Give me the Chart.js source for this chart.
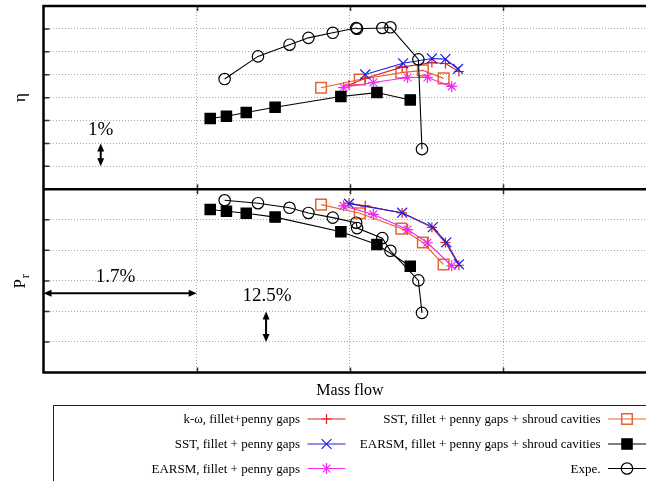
<!DOCTYPE html>
<html>
<head>
<meta charset="utf-8">
<script src="https://cdn.jsdelivr.net/npm/chart.js@4.4.1/dist/chart.umd.min.js"></script>
<style>
  body { margin: 0; background: #fff; }
  #wrap { width: 646px; height: 481px; }
</style>
</head>
<body>
<div id="wrap"><canvas id="perfChart" width="646" height="481"></canvas></div>
<script>
// axis ticks (mass flow step 1.7 %, eta step 1 %, pressure ratio step 12.5 %)
const massTicks = [0, 1.7, 3.4, 5.1];
const etaTicks = [84, 85, 86, 87, 88, 89, 90, 91, 92];
const prTicks = [0, 12.5, 25, 37.5, 50, 62.5, 75];

// k-omega, fillet + penny gaps
const kwMass = [3.39, 3.57, 3.98, 4.31, 4.46, 4.61];
const kwEta = [88.55, 88.85, 89.33, 89.53, 89.49, 89.14];
const kwPr = [69.3, 68.2, 65.3, 59.4, 53.2, 43.9];

// SST, fillet + penny gaps
const sstMassEta = [3.57, 3.99, 4.31, 4.46, 4.60];
const sstEta = [89.01, 89.50, 89.71, 89.68, 89.25];
const sstMassPr = [3.39, 3.98, 4.32, 4.47, 4.61];
const sstPr = [69.1, 65.4, 59.5, 53.3, 44.3];

// EARSM, fillet + penny gaps
const earsmMass = [3.33, 3.66, 4.04, 4.26, 4.53];
const earsmEta = [88.44, 88.66, 88.88, 88.88, 88.49];
const earsmPr = [68.2, 64.7, 58.5, 53.1, 43.7];

// SST with shroud cavities
const sstCavMass = [3.08, 3.51, 3.97, 4.21, 4.44];
const sstCavEta = [88.43, 88.79, 89.09, 89.19, 88.84];
const sstCavPr = [68.7, 65.2, 58.9, 53.2, 44.2];

// EARSM with shroud cavities
const earsmCavMass = [1.85, 2.03, 2.25, 2.57, 3.30, 3.70, 4.07];
const earsmCavEta = [87.09, 87.19, 87.35, 87.58, 88.05, 88.22, 87.90];
const earsmCavPr = [66.7, 66.0, 65.2, 63.6, 57.6, 52.4, 43.5];

// measurements
const expeMass = [2.01, 2.38, 2.73, 2.94, 3.21, 3.47, 3.48, 3.76, 3.85, 4.16, 4.20];
const expeEta = [88.81, 89.80, 90.31, 90.61, 90.83, 91.04, 91.01, 91.04, 91.07, 89.67, 85.75];
const expePr = [70.5, 69.3, 67.4, 65.3, 63.4, 61.3, 59.1, 55.0, 49.8, 37.7, 24.4];

const serif = '"Liberation Serif", "Times New Roman", serif';

const styles = {
  kw:       { label: 'k-\u03c9, fillet+penny gaps', color: '#e41e1e', pointStyle: 'cross', radius: 5, bw: 1.2, fill: 'transparent', order: 4 },
  sst:      { label: 'SST, fillet + penny gaps', color: '#1c1ce6', pointStyle: 'crossRot', radius: 7, bw: 1.2, fill: 'transparent', order: 3 },
  earsm:    { label: 'EARSM, fillet + penny gaps', color: '#ee2cee', pointStyle: 'star', radius: 5.5, bw: 1.2, fill: 'transparent', order: 2 },
  sstCav:   { label: 'SST, fillet + penny gaps + shroud cavities', color: '#e8642e', pointStyle: 'rect', radius: 7.5, bw: 1.5, fill: 'transparent', order: 5 },
  earsmCav: { label: 'EARSM, fillet + penny gaps + shroud cavities', color: '#000', pointStyle: 'rect', radius: 7.3, bw: 1.2, fill: '#000', order: 1 },
  expe:     { label: 'Expe.', color: '#000', pointStyle: 'circle', radius: 5.7, bw: 1.2, fill: 'transparent', order: 0 }
};

function series(key, xs, ys, axis) {
  const s = styles[key];
  return {
    label: s.label,
    key: key,
    data: xs.map((x, i) => ({ x: x, y: ys[i] })),
    yAxisID: axis,
    borderColor: s.color,
    borderWidth: 1.1,
    pointStyle: s.pointStyle,
    pointRadius: s.radius,
    pointBorderWidth: s.bw,
    pointBorderColor: s.color,
    pointBackgroundColor: s.fill,
    backgroundColor: s.fill,
    tension: 0,
    order: s.order
  };
}

const datasets = [
  series('kw', kwMass, kwEta, 'yEta'),
  series('sst', sstMassEta, sstEta, 'yEta'),
  series('earsm', earsmMass, earsmEta, 'yEta'),
  series('sstCav', sstCavMass, sstCavEta, 'yEta'),
  series('earsmCav', earsmCavMass, earsmCavEta, 'yEta'),
  series('expe', expeMass, expeEta, 'yEta'),
  series('kw', kwMass, kwPr, 'yPr'),
  series('sst', sstMassPr, sstPr, 'yPr'),
  series('earsm', earsmMass, earsmPr, 'yPr'),
  series('sstCav', sstCavMass, sstCavPr, 'yPr'),
  series('earsmCav', earsmCavMass, earsmCavPr, 'yPr'),
  series('expe', expeMass, expePr, 'yPr')
];

// legend layout: two columns, three rows
const legendItems = [
  { key: 'kw', col: 0, row: 0 },
  { key: 'sst', col: 0, row: 1 },
  { key: 'earsm', col: 0, row: 2 },
  { key: 'sstCav', col: 1, row: 0 },
  { key: 'earsmCav', col: 1, row: 1 },
  { key: 'expe', col: 1, row: 2 }
];

// scale annotations, in data units
const notes = [
  { axis: 'yEta', text: '1%', tx: 0.635, ty: 86.6, from: [0.635, 85], to: [0.635, 86] },
  { axis: 'yPr', text: '1.7%', tx: 0.8, ty: 38.9, from: [0, 32.4], to: [1.7, 32.4] },
  { axis: 'yPr', text: '12.5%', tx: 2.48, ty: 31.2, from: [2.47, 12.5], to: [2.47, 25] }
];

function fixedTicks(list) {
  return scale => { scale.ticks = list.map(v => ({ value: v })); };
}

function yScale(min, max, list) {
  return {
    type: 'linear', position: 'left', stack: 'panels', stackWeight: 1,
    min: min, max: max,
    ticks: { display: false },
    grid: { color: '#a8a8a8', lineWidth: 1, drawTicks: false },
    border: { display: false, dash: [1, 2] },
    afterBuildTicks: fixedTicks(list)
  };
}

function arrowHead(ctx, x, y, ang) {
  const len = 8, half = 3.5;
  ctx.beginPath();
  ctx.moveTo(x, y);
  ctx.lineTo(x - len * Math.cos(ang) + half * Math.sin(ang), y - len * Math.sin(ang) - half * Math.cos(ang));
  ctx.lineTo(x - len * Math.cos(ang) - half * Math.sin(ang), y - len * Math.sin(ang) + half * Math.cos(ang));
  ctx.closePath();
  ctx.fill();
}

const decorations = {
  id: 'decorations',
  afterDraw(chart) {
    const ctx = chart.ctx;
    const xs = chart.scales.x, ye = chart.scales.yEta, yp = chart.scales.yPr;
    const area = chart.chartArea;
    const mid = ye.bottom;

    ctx.save();

    // short inward ticks
    ctx.strokeStyle = '#333';
    ctx.lineWidth = 1.5;
    ctx.beginPath();
    [ye, yp].forEach(s => {
      s.ticks.forEach(t => {
        if (t.value === s.min || t.value === s.max) return;
        const y = s.getPixelForValue(t.value);
        ctx.moveTo(area.left, y);
        ctx.lineTo(area.left + 6, y);
      });
    });
    xs.ticks.forEach(t => {
      if (t.value === xs.min) return;
      const x = Math.round(xs.getPixelForValue(t.value)) + 0.5;
      ctx.moveTo(x, area.top); ctx.lineTo(x, area.top + 5);
      ctx.moveTo(x, mid - 5); ctx.lineTo(x, mid + 5);
      ctx.moveTo(x, area.bottom); ctx.lineTo(x, area.bottom - 5);
    });
    ctx.stroke();

    // panel frames
    ctx.strokeStyle = '#000';
    ctx.lineWidth = 2.5;
    ctx.beginPath();
    ctx.moveTo(chart.width + 2, area.top);
    ctx.lineTo(area.left, area.top);
    ctx.lineTo(area.left, area.bottom);
    ctx.lineTo(chart.width + 2, area.bottom);
    ctx.moveTo(area.left, mid);
    ctx.lineTo(chart.width + 2, mid);
    ctx.stroke();

    // annotations with double arrows
    ctx.fillStyle = '#000';
    ctx.strokeStyle = '#000';
    ctx.font = '19px ' + serif;
    ctx.textAlign = 'center';
    ctx.textBaseline = 'middle';
    notes.forEach(n => {
      const ys = chart.scales[n.axis];
      ctx.fillText(n.text, xs.getPixelForValue(n.tx), ys.getPixelForValue(n.ty));
      const x1 = xs.getPixelForValue(n.from[0]), y1 = ys.getPixelForValue(n.from[1]);
      const x2 = xs.getPixelForValue(n.to[0]), y2 = ys.getPixelForValue(n.to[1]);
      const ang = Math.atan2(y2 - y1, x2 - x1);
      ctx.lineWidth = 2;
      ctx.beginPath();
      ctx.moveTo(x1 + 6 * Math.cos(ang), y1 + 6 * Math.sin(ang));
      ctx.lineTo(x2 - 6 * Math.cos(ang), y2 - 6 * Math.sin(ang));
      ctx.stroke();
      arrowHead(ctx, x2, y2, ang);
      arrowHead(ctx, x1, y1, ang + Math.PI);
    });

    // axis titles
    ctx.font = '17px ' + serif;
    ctx.save();
    ctx.translate(21, (ye.top + ye.bottom) / 2);
    ctx.rotate(-Math.PI / 2);
    ctx.fillText('\u03b7', 0, 0);
    ctx.restore();

    ctx.save();
    ctx.translate(21, (yp.top + yp.bottom) / 2);
    ctx.rotate(-Math.PI / 2);
    ctx.textAlign = 'left';
    const pw = ctx.measureText('P').width;
    ctx.fillText('P', -pw / 2 - 3, 0);
    ctx.font = '12px ' + serif;
    ctx.fillText('r', pw / 2 - 2, 5);
    ctx.restore();

    ctx.font = '16px ' + serif;
    ctx.textAlign = 'center';
    ctx.textBaseline = 'alphabetic';
    ctx.fillText('Mass flow', xs.getPixelForValue(3.4), 395);

    // legend box
    ctx.lineWidth = 1;
    ctx.strokeStyle = '#222';
    ctx.fillStyle = '#fff';
    ctx.fillRect(53.5, 405.5, chart.width, 100);
    ctx.strokeRect(53.5, 405.5, chart.width, 100);

    const textRight = [300, 600.5];
    const sampleLeft = [307.5, 608];
    const rowY = [419, 444, 468.5];
    ctx.font = '13px ' + serif;
    ctx.textAlign = 'right';
    ctx.textBaseline = 'middle';
    legendItems.forEach(item => {
      const ds = chart.data.datasets.find(d => d.key === item.key);
      const y = rowY[item.row];
      ctx.fillStyle = '#000';
      ctx.fillText(ds.label, textRight[item.col], y + 1);
      const sx = sampleLeft[item.col];
      ctx.strokeStyle = ds.borderColor;
      ctx.lineWidth = 1.2;
      ctx.beginPath();
      ctx.moveTo(sx, y);
      ctx.lineTo(sx + 38, y);
      ctx.stroke();
      ctx.fillStyle = ds.pointBackgroundColor;
      ctx.lineWidth = ds.pointBorderWidth;
      if (Chart.helpers && Chart.helpers.drawPoint) {
        Chart.helpers.drawPoint(ctx, {
          pointStyle: ds.pointStyle, radius: ds.pointRadius,
          borderWidth: ds.pointBorderWidth, rotation: 0
        }, sx + 19, y);
      }
    });

    ctx.restore();
  }
};

new Chart(document.getElementById('perfChart'), {
  type: 'line',
  data: { datasets: datasets },
  options: {
    responsive: false,
    devicePixelRatio: 1,
    animation: false,
    events: [],
    layout: { autoPadding: false, padding: { left: 43.5, top: 6, right: 0, bottom: 108.5 } },
    plugins: { legend: { display: false }, tooltip: { enabled: false } },
    scales: {
      x: {
        type: 'linear', min: 0, max: 6.686,
        ticks: { display: false },
        grid: { color: '#a8a8a8', lineWidth: 1, drawTicks: false },
        border: { display: false, dash: [1, 2] },
        afterBuildTicks: fixedTicks(massTicks)
      },
      yPr: yScale(0, 75, prTicks),
      yEta: yScale(84, 92, etaTicks)
    }
  },
  plugins: [decorations]
});
</script>
</body>
</html>
